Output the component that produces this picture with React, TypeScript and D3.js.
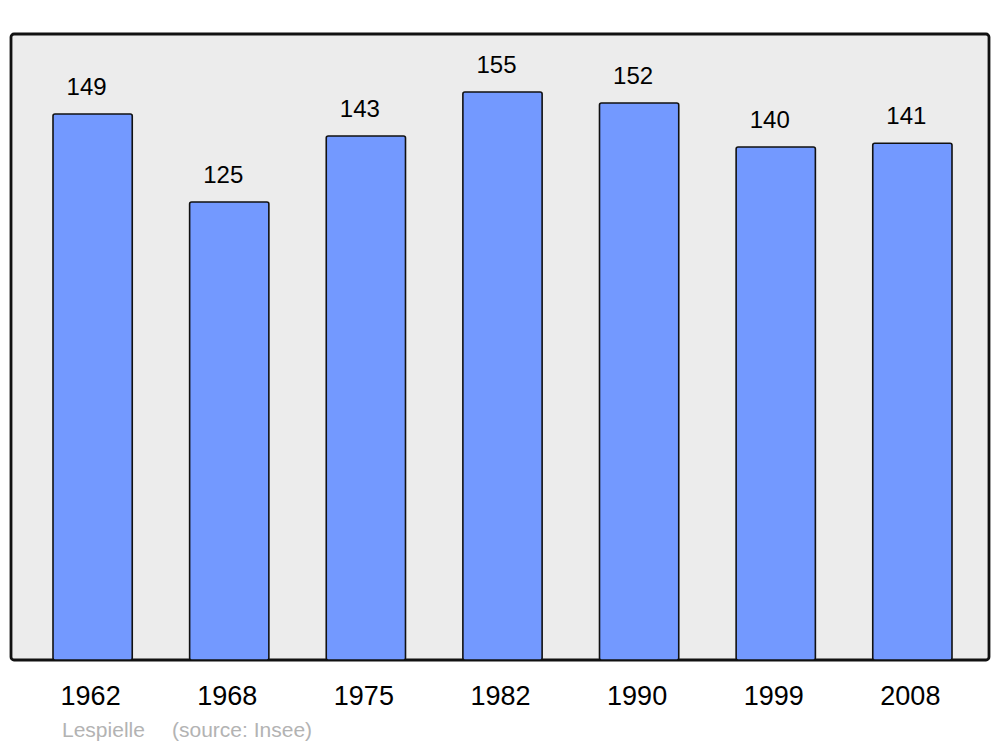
import React from 'react';
import * as d3 from 'd3';

const years = ['1962', '1968', '1975', '1982', '1990', '1999', '2008'];
const population = [149, 125, 143, 155, 152, 140, 141];
const commune = 'Lespielle';
const sourceText = '(source: Insee)';

export default function App() {
  const width = 1000;
  const height = 747;
  const panel = { x: 11, y: 34, w: 978, h: 626 };

  const x = d3.scaleBand<string>().domain(years).range([53, 952]).paddingInner(0.42).paddingOuter(0);
  const y = d3.scaleLinear().domain([0, 155]).range([660, 92]);

  return (
    <svg
      width={width}
      height={height}
      style={{ position: 'absolute', left: 0, top: 0, fontFamily: '"Liberation Sans", Arial, sans-serif' }}
    >
      <rect x={0} y={0} width={width} height={height} fill="#ffffff" />
      <rect
        x={panel.x}
        y={panel.y}
        width={panel.w}
        height={panel.h}
        rx={3}
        fill="#ececec"
        stroke="#111"
        strokeWidth={2.8}
      />
      {years.map((yr, i) => {
        const bx = x(yr)!;
        const v = population[i];
        return (
          <g key={yr}>
            <rect
              x={bx}
              y={y(v)}
              width={x.bandwidth()}
              height={y(0) - y(v)}
              rx={2}
              fill="#7399ff"
              stroke="#111"
              strokeWidth={1.6}
            />
            <text
              x={bx + x.bandwidth() / 2 - 6}
              y={y(v) - 19}
              textAnchor="middle"
              fontSize={24}
              fill="#000"
            >
              {v}
            </text>
            <text x={bx + x.bandwidth() / 2 - 2} y={705} textAnchor="middle" fontSize={27} fill="#000">
              {yr}
            </text>
          </g>
        );
      })}
      <text x={62} y={737} fontSize={21} fill="#b3b3b3">
        {commune}
      </text>
      <text x={172} y={737} fontSize={21} fill="#b3b3b3">
        {sourceText}
      </text>
    </svg>
  );
}
